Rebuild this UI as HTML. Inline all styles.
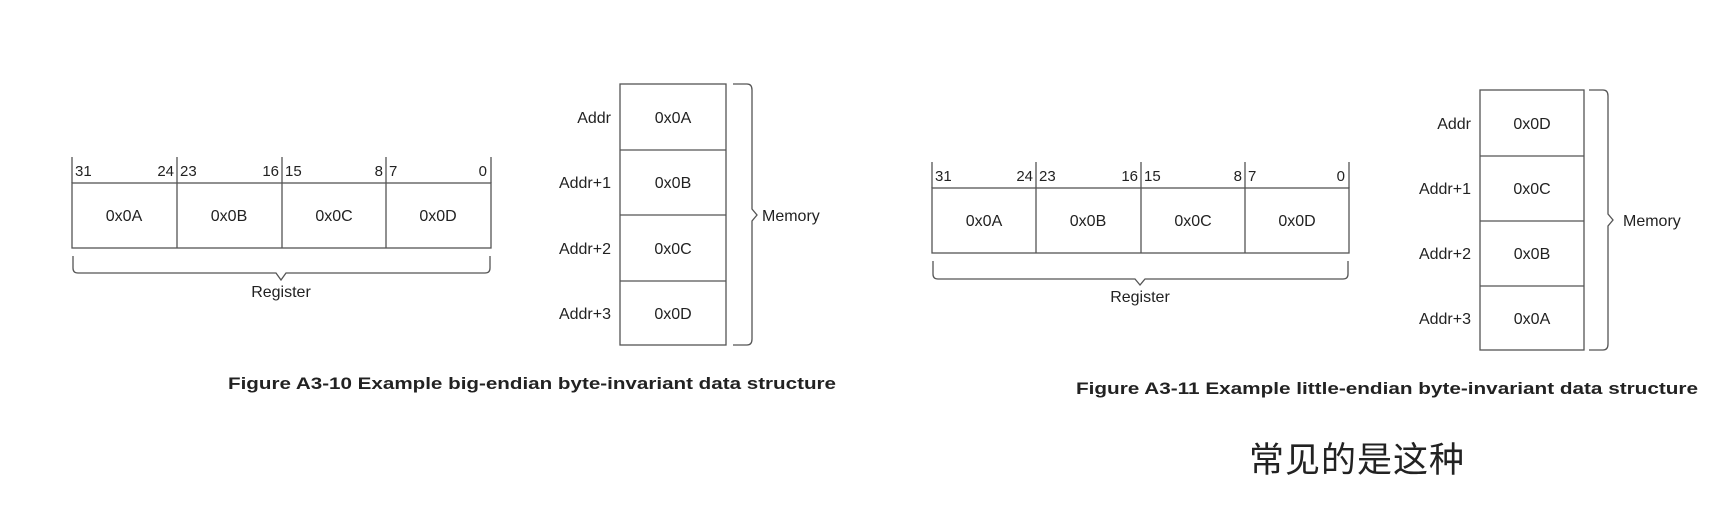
<!DOCTYPE html>
<html><head><meta charset="utf-8"><style>
html,body{margin:0;padding:0;background:#fff;width:1734px;height:509px;overflow:hidden}
svg text{font-family:"Liberation Sans",Arial,sans-serif;fill:#222}
</style></head><body>
<svg width="1734" height="509" viewBox="0 0 1734 509" xmlns="http://www.w3.org/2000/svg">
<g stroke="#555" stroke-width="1.3" fill="none">
<!-- left register -->
<rect x="72" y="183" width="419" height="65"/>
<line x1="72" y1="157" x2="72" y2="183"/><line x1="177" y1="157" x2="177" y2="248"/>
<line x1="282" y1="157" x2="282" y2="248"/><line x1="386" y1="157" x2="386" y2="248"/>
<line x1="491" y1="157" x2="491" y2="183"/>
<path d="M73 256 V268 Q73 273 78 273 H276 L281 280 L286 273 H485 Q490 273 490 268 V256"/>
<!-- left memory -->
<rect x="620" y="84" width="106" height="261"/>
<line x1="620" y1="150" x2="726" y2="150"/><line x1="620" y1="215" x2="726" y2="215"/><line x1="620" y1="281" x2="726" y2="281"/>
<path d="M733 84 H747 Q752 84 752 90 V209 L757 215 L752 221 V339 Q752 345 747 345 H733"/>
<!-- right register -->
<rect x="932" y="188" width="417" height="65"/>
<line x1="932" y1="162" x2="932" y2="188"/><line x1="1036" y1="162" x2="1036" y2="253"/>
<line x1="1141" y1="162" x2="1141" y2="253"/><line x1="1245" y1="162" x2="1245" y2="253"/>
<line x1="1349" y1="162" x2="1349" y2="188"/>
<path d="M933 261 V274 Q933 279 938 279 H1135 L1140 285 L1145 279 H1343 Q1348 279 1348 274 V261"/>
<!-- right memory -->
<rect x="1480" y="90" width="104" height="260"/>
<line x1="1480" y1="156" x2="1584" y2="156"/><line x1="1480" y1="221" x2="1584" y2="221"/><line x1="1480" y1="286" x2="1584" y2="286"/>
<path d="M1589 90 H1603 Q1608 90 1608 96 V214 L1613 220 L1608 226 V344 Q1608 350 1603 350 H1589"/>
</g>
<g font-size="15">
<text x="75" y="176">31</text><text x="174" y="176" text-anchor="end">24</text>
<text x="180" y="176">23</text><text x="279" y="176" text-anchor="end">16</text>
<text x="285" y="176">15</text><text x="383" y="176" text-anchor="end">8</text>
<text x="389" y="176">7</text><text x="487" y="176" text-anchor="end">0</text>
<text x="935" y="181">31</text><text x="1033" y="181" text-anchor="end">24</text>
<text x="1039" y="181">23</text><text x="1138" y="181" text-anchor="end">16</text>
<text x="1144" y="181">15</text><text x="1242" y="181" text-anchor="end">8</text>
<text x="1248" y="181">7</text><text x="1345" y="181" text-anchor="end">0</text>
</g>
<g font-size="16" text-anchor="middle">
<text x="124" y="221">0x0A</text><text x="229" y="221">0x0B</text><text x="334" y="221">0x0C</text><text x="438" y="221">0x0D</text>
<text x="281" y="297">Register</text>
<text x="673" y="123">0x0A</text><text x="673" y="188">0x0B</text><text x="673" y="254">0x0C</text><text x="673" y="319">0x0D</text>
<text x="984" y="226">0x0A</text><text x="1088" y="226">0x0B</text><text x="1193" y="226">0x0C</text><text x="1297" y="226">0x0D</text>
<text x="1140" y="302">Register</text>
<text x="1532" y="129">0x0D</text><text x="1532" y="194">0x0C</text><text x="1532" y="259">0x0B</text><text x="1532" y="324">0x0A</text>
</g>
<g font-size="16" text-anchor="end">
<text x="611" y="123">Addr</text><text x="611" y="188">Addr+1</text><text x="611" y="254">Addr+2</text><text x="611" y="319">Addr+3</text>
<text x="1471" y="129">Addr</text><text x="1471" y="194">Addr+1</text><text x="1471" y="259">Addr+2</text><text x="1471" y="324">Addr+3</text>
</g>
<text x="762" y="221" font-size="16">Memory</text>
<text x="1623" y="226" font-size="16">Memory</text>
<text x="228" y="389" font-size="17" font-weight="bold" textLength="608" lengthAdjust="spacingAndGlyphs">Figure A3-10 Example big-endian byte-invariant data structure</text>
<text x="1076" y="394" font-size="17" font-weight="bold" textLength="622" lengthAdjust="spacingAndGlyphs">Figure A3-11 Example little-endian byte-invariant data structure</text>
<text x="1249" y="472" font-size="35" style="font-family:'Liberation Sans','Noto Sans CJK SC',sans-serif" fill="#111" textLength="215">常见的是这种</text>
</svg>
</body></html>
